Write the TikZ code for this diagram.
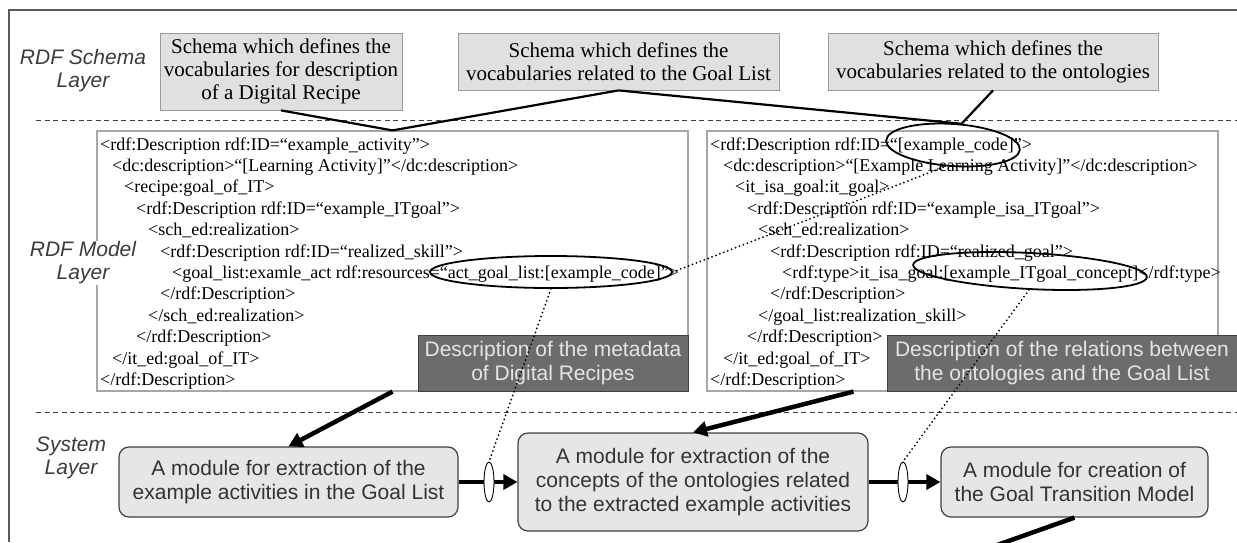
\documentclass[tikz,border=0pt]{standalone}
\usepackage{fontspec}
\setmainfont{Liberation Serif}
\setsansfont{Liberation Sans}
\usetikzlibrary{shapes.geometric,arrows.meta,calc}
\definecolor{schemafill}{HTML}{E0E0E0}
\definecolor{modfill}{HTML}{E6E6E6}
\definecolor{darkfill}{HTML}{6C6C6C}
\definecolor{labelgray}{HTML}{3C3C3C}
\begin{document}
\begin{tikzpicture}[x=1pt,y=-1pt,
  framestyle/.style={draw=black!65, line width=1.2pt},
  sep/.style={draw=black!75, line width=1pt, dash pattern=on 5pt off 3.5pt},
  schemabox/.style={draw=black!40, fill=schemafill, line width=0.8pt, align=center,
    font=\fontsize{21}{23}\selectfont, inner sep=0pt},
  codebox/.style={draw=black!35, line width=1.2pt, fill=white},
  codeline/.style={anchor=base west, inner sep=0pt, font=\fontsize{18}{20}\selectfont},
  darkbox/.style={draw=black!75, fill=darkfill, line width=1pt, text=white!90!black,
    align=center, font=\sffamily\fontsize{21}{24}\selectfont, inner sep=0pt},
  hilite/.style={ellipse, draw=black, line width=1.8pt, inner sep=0pt},
  layerlabel/.style={font=\sffamily\itshape\fontsize{21}{23}\selectfont, text=labelgray,
    align=center, inner sep=1pt},
  module/.style={rounded corners=10pt, draw=black!75, fill=modfill, line width=1.2pt,
    align=center, text=black!80, font=\sffamily\fontsize{21}{24}\selectfont, inner sep=0pt},
  gate/.style={ellipse, draw=black, fill=white, line width=0.9pt, minimum width=10pt,
    minimum height=40pt, inner sep=0pt},
  flow/.style={draw=black, line width=4.5pt, -{Triangle[length=14pt,width=15pt]}},
  flowline/.style={draw=black, line width=4.5pt},
  schemalink/.style={draw=black, line width=2.2pt, line join=round},
  dotline/.style={draw=black, line width=2pt, line cap=round, dash pattern=on 0pt off 4.2pt}
]
\useasboundingbox (0,0) rectangle (1237,542);

% outer frame and layer separators
\draw[framestyle] (9,542) -- (9,10) -- (1237,10);
\draw[sep] (36,120) -- (1237,120);
\draw[sep] (36,412) -- (1237,412);

% RDF schema layer
\node[schemabox, minimum width=242pt, minimum height=77pt] (sch1) at (281,71.5)
  {Schema which defines the\\vocabularies for description\\of a Digital Recipe};
\node[schemabox, minimum width=321pt, minimum height=57pt] (sch2) at (618.5,61.5)
  {Schema which defines the\\vocabularies related to the Goal List};
\node[schemabox, minimum width=330pt, minimum height=57pt] (sch3) at (993,61.5)
  {Schema which defines the\\vocabularies related to the ontologies};

% RDF model layer: the two descriptions
\node[codebox, minimum width=591pt, minimum height=260pt] (codeL) at (392.5,261) {};
\node[codebox, minimum width=511pt, minimum height=260pt] (codeR) at (962.5,261) {};

\node[codeline] (l1)  at (100,150.0) {<rdf:Description rdf:ID=“example\_activity”>};
\node[codeline] (l2)  at (112,171.4) {<dc:description>“[Learning Activity]”</dc:description>};
\node[codeline] (l3)  at (124,192.8) {<recipe:goal\_of\_IT>};
\node[codeline] (l4)  at (136,214.2) {<rdf:Description rdf:ID=“example\_ITgoal">};
\node[codeline] (l5)  at (148,235.6) {<sch\_ed:realization>};
\node[codeline] (l6)  at (160,257.0) {<rdf:Description rdf:ID=“realized\_skill">};
\node[codeline] (l7)  at (172,278.4) {<goal\_list:examle\_act rdf:resources=“act\_goal\_list:[example\_code]”>};
\node[codeline] (l8)  at (160,299.8) {</rdf:Description>};
\node[codeline] (l9)  at (148,321.2) {</sch\_ed:realization>};
\node[codeline] (l10) at (136,342.6) {</rdf:Description>};
\node[codeline] (l11) at (112,364.0) {</it\_ed:goal\_of\_IT>};
\node[codeline] (l12) at (100,385.4) {</rdf:Description>};

\node[codeline] (r1)  at (710,150.0) {<rdf:Description rdf:ID=“[example\_code]”>};
\node[codeline] (r2)  at (723,171.4) {<dc:description>“[Example Learning Activity]”</dc:description>};
\node[codeline] (r3)  at (735,192.8) {<it\_isa\_goal:it\_goal>};
\node[codeline] (r4)  at (747,214.2) {<rdf:Description rdf:ID=“example\_isa\_ITgoal">};
\node[codeline] (r5)  at (758,235.6) {<sch\_ed:realization>};
\node[codeline] (r6)  at (770,257.0) {<rdf:Description rdf:ID=“realized\_goal”>};
\node[codeline] (r7)  at (782,278.4) {<rdf:type>it\_isa\_goal:[example\_ITgoal\_concept]</rdf:type>};
\node[codeline] (r8)  at (770,299.8) {</rdf:Description>};
\node[codeline] (r9)  at (758,321.2) {</goal\_list:realization\_skill>};
\node[codeline] (r10) at (747,342.6) {</rdf:Description>};
\node[codeline] (r11) at (723,364.0) {</it\_ed:goal\_of\_IT>};
\node[codeline] (r12) at (710,385.4) {</rdf:Description>};

\node[darkbox, minimum width=270pt, minimum height=56pt] (dk1) at (553,363)
  {Description of the metadata\\of Digital Recipes};
\node[darkbox, minimum width=350pt, minimum height=56pt] (dk2) at (1062,363)
  {Description of the relations between\\the ontologies and the Goal List};

% highlighted identifiers
\node[hilite, minimum width=242pt, minimum height=32pt] (e1) at (551,272) {};
\node[hilite, minimum width=134pt, minimum height=42pt, rotate=-4] (e2) at (953,145) {};
\node[hilite, minimum width=234pt, minimum height=36pt, rotate=-3] (e3) at (1030,271) {};

% layer names
\node[layerlabel] (lyS) at (83,71) {RDF Schema\\Layer};
\node[layerlabel, fill=white] (lyM) at (83,263) {RDF Model\\Layer};
\node[layerlabel] (lyY) at (71,458) {System\\Layer};

% schemas used by the descriptions
\draw[schemalink] (sch1.south) -- (codeL.north) -- (sch2.south);
\draw[schemalink] (sch2.south) -- (e2.72);
\draw[schemalink] (sch3.south) -- (e2.72);

% system layer
\node[module, minimum width=339pt, minimum height=70pt] (sysA) at (288.5,482)
  {A module for extraction of the\\example activities in the Goal List};
\node[module, minimum width=350pt, minimum height=98pt] (sysB) at (693,482)
  {A module for extraction of the\\concepts of the ontologies related\\to the extracted example activities};
\node[module, minimum width=267pt, minimum height=70pt] (sysC) at (1074.5,482)
  {A module for creation of\\the Goal Transition Model};
\coordinate (out) at (969,555);

\draw[flow] (codeL.south) -- (sysA.north);
\draw[flow] ($(codeR.south west)+(147,0)$) -- (sysB.north);
\draw[flow] (sysA.east) -- (sysB.west);
\draw[flow] (sysB.east) -- (sysC.west);
\draw[flowline] (sysC.south) -- (out);

\node[gate] (g1) at (489,482) {};
\node[gate] (g2) at (903,482) {};

% identifier correspondences
\draw[dotline] (e1.south) -- (g1.north);
\draw[dotline] (e1.east) -- (e2.255);
\draw[dotline] (e3.south) -- (g2.north);
\end{tikzpicture}
\end{document}
